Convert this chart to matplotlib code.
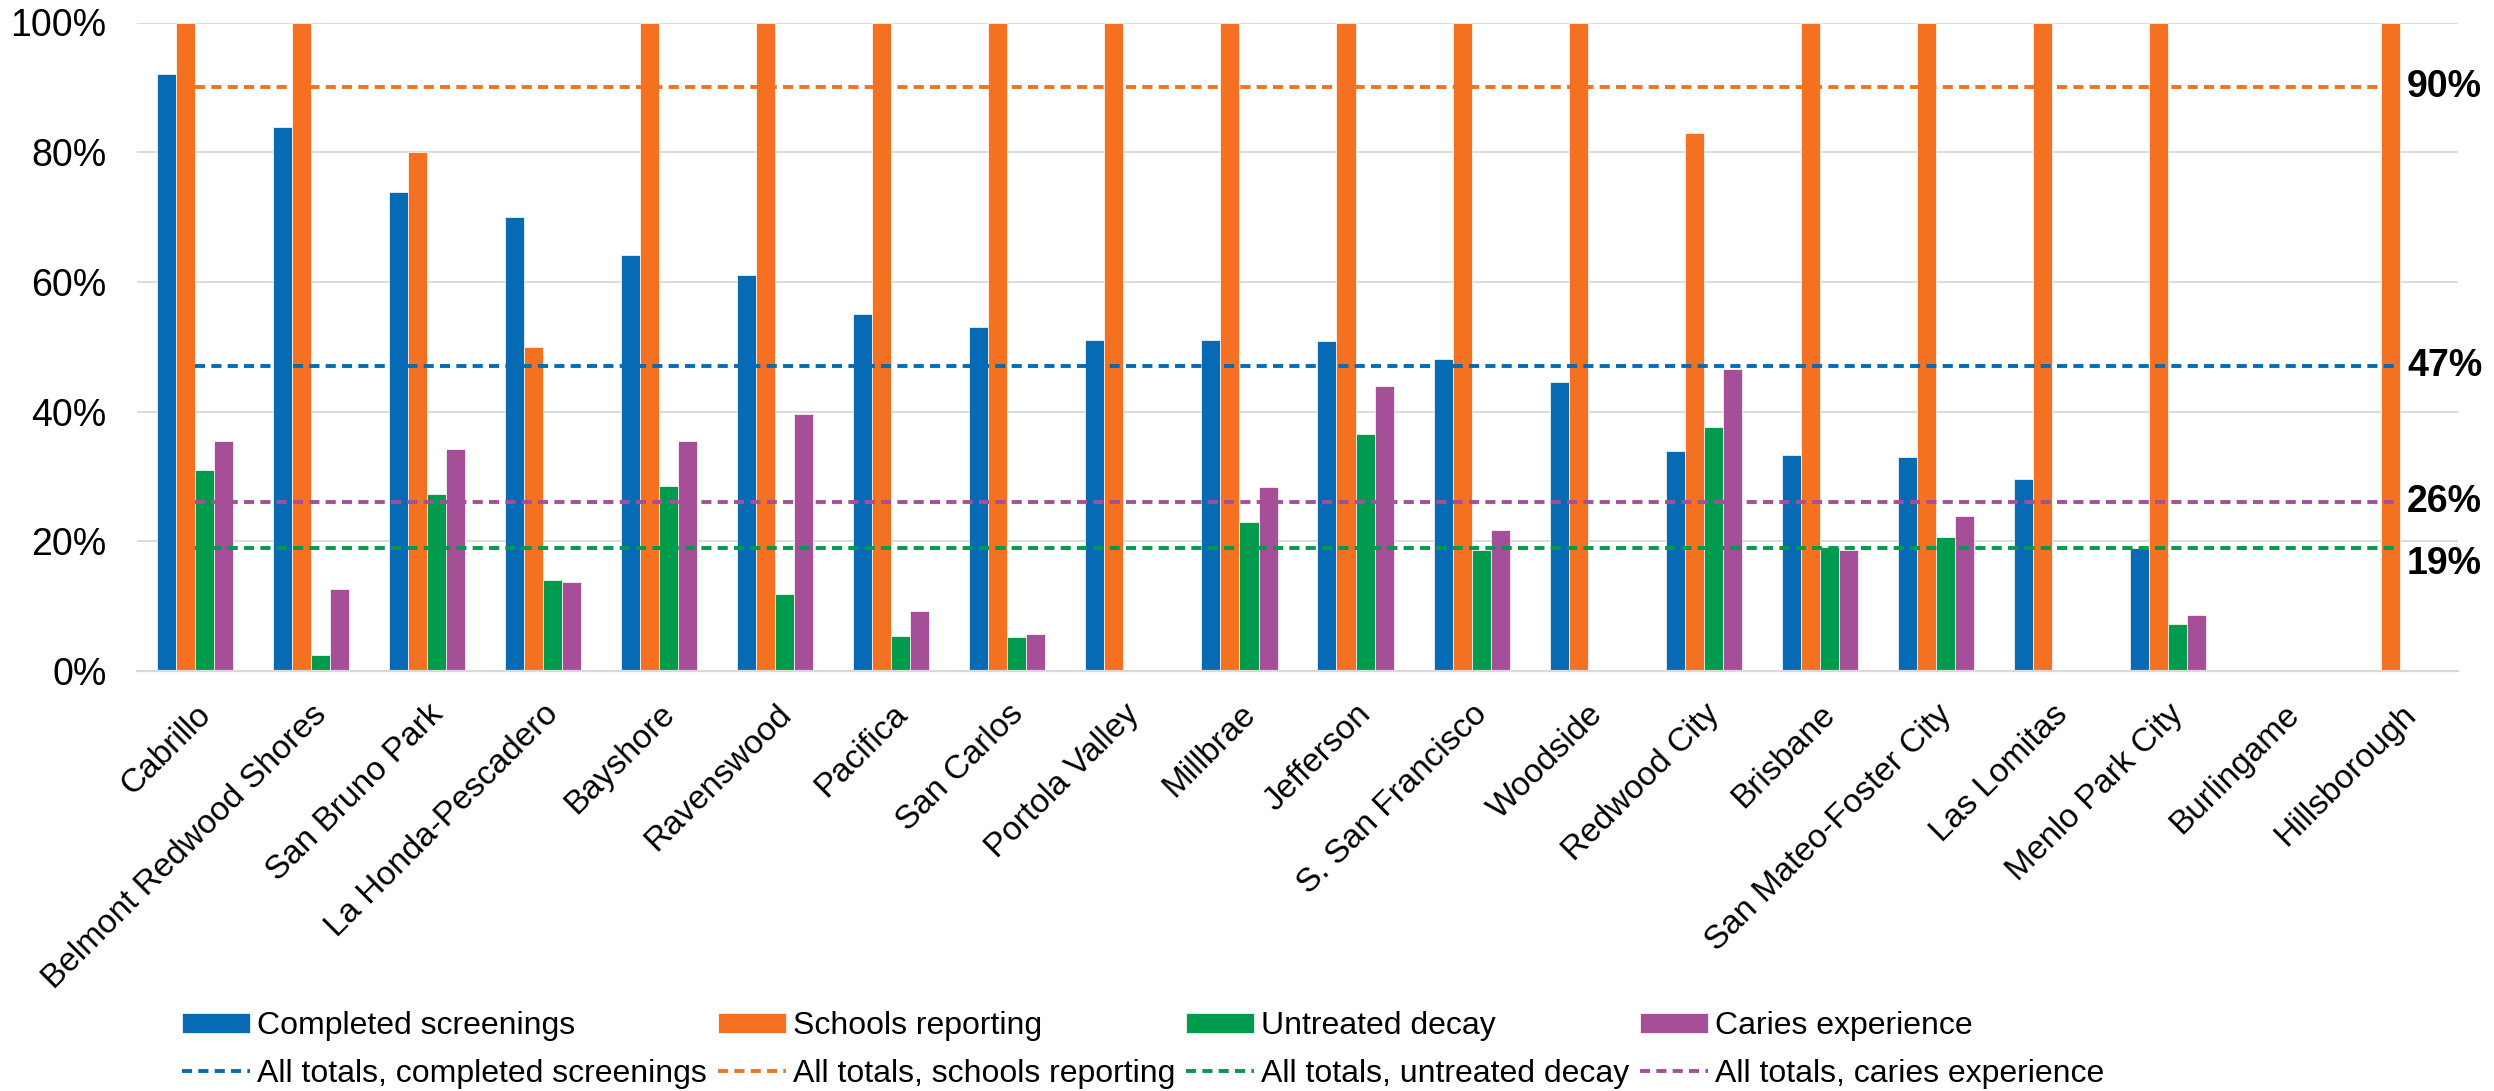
import numpy as np
import matplotlib
matplotlib.use("Agg")
import matplotlib.pyplot as plt
from matplotlib.ticker import PercentFormatter

plt.rcParams['font.family'] = ['Liberation Sans', 'DejaVu Sans']

districts = ["Cabrillo", "Belmont Redwood Shores", "San Bruno Park", "La Honda-Pescadero",
             "Bayshore", "Ravenswood", "Pacifica", "San Carlos", "Portola Valley", "Millbrae",
             "Jefferson", "S. San Francisco", "Woodside", "Redwood City", "Brisbane",
             "San Mateo-Foster City", "Las Lomitas", "Menlo Park City", "Burlingame", "Hillsborough"]

nan = np.nan
completed_screenings = [92.1, 83.9, 73.9, 70.0, 64.1, 61.0, 55.1, 53.0, 51.0, 51.0,
                        50.9, 48.1, 44.5, 34.0, 33.3, 33.0, 29.6, 18.9, nan, nan]
schools_reporting = [100, 100, 80, 50, 100, 100, 100, 100, 100, 100,
                     100, 100, 100, 83, 100, 100, 100, 100, nan, 100]
untreated_decay = [31.0, 2.5, 27.3, 14.0, 28.6, 11.8, 5.4, 5.2, nan, 22.9,
                   36.6, 18.6, nan, 37.6, 19.1, 20.6, nan, 7.2, nan, nan]
caries_experience = [35.5, 12.6, 34.2, 13.8, 35.5, 39.6, 9.2, 5.7, nan, 28.4,
                     43.9, 21.8, nan, 46.6, 18.6, 23.9, nan, 8.7, nan, nan]

series_names = ["Completed screenings", "Schools reporting", "Untreated decay", "Caries experience"]
total_names = ["All totals, completed screenings", "All totals, schools reporting",
               "All totals, untreated decay", "All totals, caries experience"]
totals = [47, 90, 19, 26]
total_labels = ["47%", "90%", "19%", "26%"]

colors = ["#066BB4", "#F57122", "#009B4C", "#A54F98"]

fig = plt.figure(figsize=(24.94, 10.91), dpi=100)
ax = fig.add_axes([137 / 2494, 1 - 671 / 1091, (2458 - 137) / 2494, (671 - 22.5) / 1091])

x = np.arange(len(districts))
w = 0.164
series = [completed_screenings, schools_reporting, untreated_decay, caries_experience]
bar_handles = []
for i, (vals, col, name) in enumerate(zip(series, colors, series_names)):
    h = ax.bar(x + (i - 1.5) * w, vals, width=w, color=col, edgecolor='white',
               linewidth=0.5, label=name, zorder=2)
    bar_handles.append(h)

line_handles = []
for tot, col, name in zip(totals, colors, total_names):
    ln, = ax.plot(x, [tot] * len(x), color=col, linewidth=2.8, linestyle=(0, (2.6, 1.6)),
                  dash_capstyle='butt', label=name, zorder=3)
    line_handles.append(ln)

# end labels
offsets = {"47%": 0, "90%": 0, "26%": 0, "19%": -12}
for tot, lab in zip(totals, total_labels):
    ax.annotate(lab, xy=(x[-1], tot), xytext=(5, offsets[lab]), textcoords='offset points',
                ha='left', va='center', fontsize=27, fontweight='bold', color='black',
                annotation_clip=False, zorder=4)

ax.set_xlim(-0.5, len(districts) - 0.5)
ax.set_ylim(0, 100)
ax.set_yticks([0, 20, 40, 60, 80, 100])
ax.yaxis.set_major_formatter(PercentFormatter(decimals=0))
ax.grid(axis='y', color='#D9D9D9', linewidth=1.3, zorder=0)
ax.set_axisbelow(True)
for s in ['top', 'right', 'left']:
    ax.spines[s].set_visible(False)
ax.spines['bottom'].set_color('#D9D9D9')
ax.spines['bottom'].set_linewidth(1.6)

ax.tick_params(axis='y', length=0, pad=22, labelsize=27)
ax.tick_params(axis='x', length=0, pad=20, labelsize=24)
ax.set_xticks(x)
ax.set_xticklabels(districts, rotation=45, ha='right', va='top', rotation_mode='anchor')

ordered = []
for i in range(4):
    ordered += [bar_handles[i], line_handles[i]]
labels = [h.get_label() for h in ordered]
leg = fig.legend(ordered, labels, ncol=4, loc='center left',
                 bbox_to_anchor=(182 / 2494, 1 - 1050 / 1091), frameon=False,
                 fontsize=23, handlelength=2.13, handleheight=0.56, handletextpad=0.22,
                 columnspacing=0.34, labelspacing=0.55, borderpad=0, borderaxespad=0)

fig.savefig("out.png", dpi=100)
